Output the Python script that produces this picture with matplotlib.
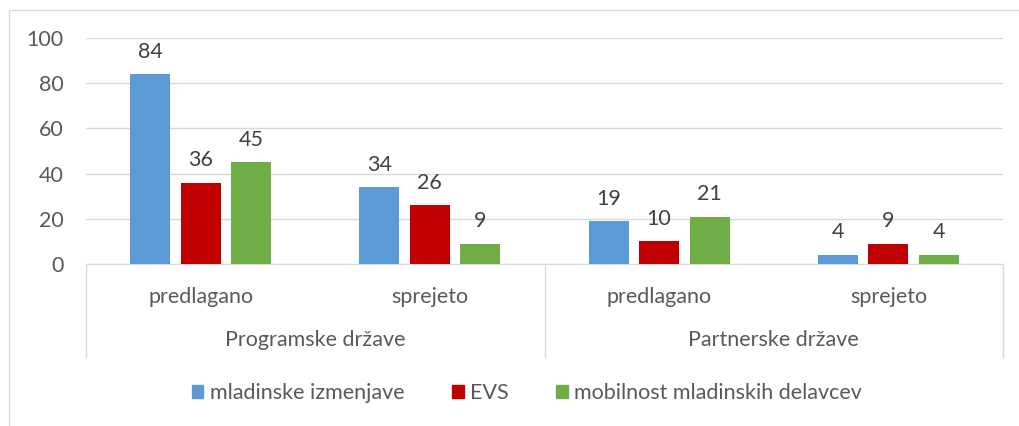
import numpy as np
import matplotlib.pyplot as plt
from matplotlib.patches import Rectangle
from matplotlib.lines import Line2D

plt.rcParams['font.family'] = ['Lato', 'DejaVu Sans']

# podatki
skupine = ["Programske države", "Partnerske države"]
podkategorije = ["predlagano", "sprejeto", "predlagano", "sprejeto"]
serije = ["mladinske izmenjave", "EVS", "mobilnost mladinskih delavcev"]
mladinske = [84, 34, 19, 4]
evs = [36, 26, 10, 9]
mobilnost = [45, 9, 21, 4]
barve = ["#5B9BD5", "#C00000", "#70AD47"]

W, H = 1019, 426
fig = plt.figure(figsize=(W / 100, H / 100), dpi=100)
fs = 15.5

# zunanji okvir grafikona
fig.add_artist(Rectangle((9 / W, -0.2), 1.2, 1 - 10 / H + 0.2, transform=fig.transFigure,
                         fill=False, edgecolor="#D9D9D9", linewidth=1))

x0, x1, ytop, ybot = 86, 1003, 38, 264
ax = fig.add_axes([x0 / W, 1 - ybot / H, (x1 - x0) / W, (ybot - ytop) / H])

x = np.arange(len(podkategorije))
sirina = 0.175
razmik = 0.22
tekst = "#595959"
for i, (vrednosti, barva) in enumerate(zip([mladinske, evs, mobilnost], barve)):
    pos = x + (i - 1) * razmik
    ax.bar(pos, vrednosti, width=sirina, color=barva, zorder=3)
    for p, v in zip(pos, vrednosti):
        ax.annotate(str(v), (p, v), xytext=(0, 9), textcoords="offset points",
                    ha="center", va="bottom", fontsize=fs, color="#404040")

ax.set_xlim(-0.5, len(podkategorije) - 0.5)
ax.set_ylim(0, 100)
ax.set_yticks(range(0, 101, 20))
ax.yaxis.grid(True, color="#D9D9D9", linewidth=1)
ax.set_axisbelow(True)
for s in ["top", "right", "left"]:
    ax.spines[s].set_visible(False)
ax.spines["bottom"].set_color("#D9D9D9")
ax.tick_params(axis="y", length=0, labelsize=fs, labelcolor=tekst, pad=16)
ax.tick_params(axis="x", length=0, labelbottom=False)

# dvonivojska os kategorij
trans = ax.get_xaxis_transform()
spodaj = -(357 - ybot) / (ybot - ytop)
for xv in [-0.5, 1.5, 3.5]:
    ax.add_line(Line2D([xv, xv], [0, spodaj], transform=trans, color="#D9D9D9",
                       linewidth=1, clip_on=False))
y_pod = -(297 - ybot) / (ybot - ytop)
y_sk = -(340 - ybot) / (ybot - ytop)
for xi, lab in zip(x, podkategorije):
    ax.text(xi, y_pod, lab, transform=trans, ha="center", va="center",
            fontsize=fs, color=tekst)
for gi, lab in enumerate(skupine):
    ax.text(gi * 2 + 0.5, y_sk, lab, transform=trans, ha="center", va="center",
            fontsize=fs, color=tekst)

rocaji = [Rectangle((0, 0), 1, 1, color=b) for b in barve]
fig.legend(rocaji, serije, loc="center", bbox_to_anchor=(527 / W, 1 - 393 / H),
           ncol=3, frameon=False, fontsize=fs, labelcolor=tekst,
           handlelength=0.55, handleheight=0.55, handletextpad=0.3, columnspacing=2.2)

fig.savefig("out.png", dpi=100)
